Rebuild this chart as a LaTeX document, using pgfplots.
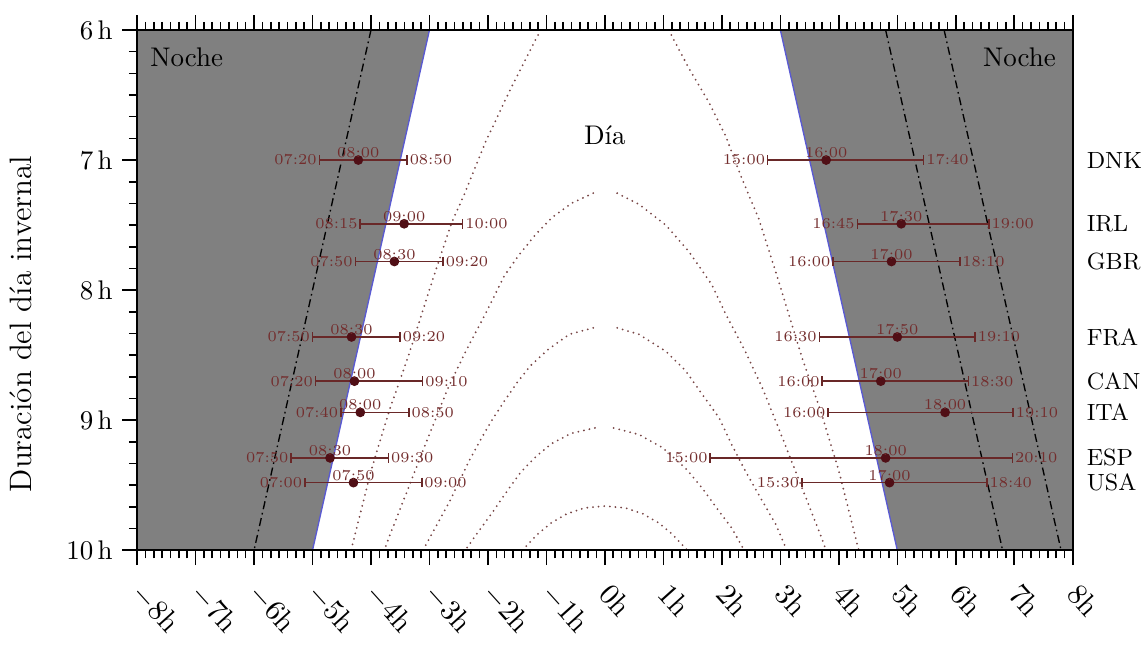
\documentclass[border=0pt]{standalone}
\usepackage{pgfplots}
\usepackage{pgfplotstable}
\pgfplotsset{compat=1.18}
\definecolor{nightgray}{RGB}{128,128,128}
\definecolor{edgeblue}{RGB}{90,90,210}
\definecolor{labc}{RGB}{115,45,45}
\definecolor{barc}{RGB}{105,40,40}
\definecolor{dotc}{RGB}{80,15,22}
\definecolor{curvec}{RGB}{120,70,70}
\newcommand{\labfont}{\fontsize{5.6}{6}\selectfont}

\pgfplotstableread{
c y xmin x xmax lmin lx lmax
DNK 7.00 -4.883 -4.217 -3.383 07:20 08:00 08:50
IRL 7.49 -4.183 -3.433 -2.433 08:15 09:00 10:00
GBR 7.78 -4.267 -3.600 -2.767 07:50 08:30 09:20
FRA 8.36 -5.000 -4.333 -3.500 07:50 08:30 09:20
CAN 8.70 -4.950 -4.283 -3.117 07:20 08:00 09:10
ITA 8.94 -4.517 -4.183 -3.350 07:40 08:00 08:50
ESP 9.29 -5.367 -4.700 -3.700 07:50 08:30 09:30
USA 9.48 -5.133 -4.300 -3.133 07:00 07:50 09:00
}\sunrise

\pgfplotstableread{
c y xmin x xmax lmin lx lmax
DNK 7.00 2.783 3.783 5.450 15:00 16:00 17:40
IRL 7.49 4.317 5.067 6.567 16:45 17:30 19:00
GBR 7.78 3.900 4.900 6.067 16:00 17:00 18:10
FRA 8.36 3.667 5.000 6.333 16:30 17:50 19:10
CAN 8.70 3.717 4.717 6.217 16:00 17:00 18:30
ITA 8.94 3.817 5.817 6.983 16:00 18:00 19:10
ESP 9.29 1.800 4.800 6.967 15:00 18:00 20:10
USA 9.48 3.367 4.867 6.533 15:30 17:00 18:40
}\sunset

\pgfplotsset{
  timebar/.style={only marks, mark=*, mark size=1.6pt,
    mark options={fill=dotc, draw=dotc},
    error bars/.cd, x dir=both, x explicit,
    error bar style={barc, line width=0.6pt},
    error mark=|, error mark options={barc, line width=0.6pt, mark size=1.8pt, rotate=0}},
  curvedot/.style={curvec, line width=0.75pt, line cap=round, dash pattern=on 0pt off 2.1pt},
  dashdot/.style={black, line width=0.5pt, dash pattern=on 3pt off 1.4pt on 0.6pt off 1.4pt},
}

\begin{document}
\begin{tikzpicture}
\begin{axis}[
  scale only axis, width=347.1pt, height=193.0pt,
  xmin=-8, xmax=8, ymin=6, ymax=10, y dir=reverse,
  clip=false, axis on top,
  axis line style={line width=0.7pt},
  xtick={-8,-7,-6,-5,-4,-3,-2,-1,0,1,2,3,4,5,6,7,8},
  xticklabels={$-8$h,$-7$h,$-6$h,$-5$h,$-4$h,$-3$h,$-2$h,$-1$h,$0$h,$1$h,$2$h,$3$h,$4$h,$5$h,$6$h,$7$h,$8$h},
  ytick={6,7,8,9,10},
  yticklabels={6\,h,7\,h,8\,h,9\,h,10\,h},
  minor x tick num=6, minor y tick num=5,
  tick align=outside, xtick pos=both, ytick pos=left,
  major tick length=5.5pt, minor tick length=3pt,
  every tick/.style={black, line width=0.6pt},
  yticklabel style={font=\fontsize{10}{12}\selectfont},
  xticklabel style={font=\fontsize{11}{13}\selectfont, xshift=-2.2pt, yshift=-6pt, rotate=-48, anchor=west},
]
% night regions
\addplot[fill=nightgray, draw=none] coordinates {(-8,6) (-3,6) (-5,10) (-8,10)} -- cycle;
\addplot[fill=nightgray, draw=none] coordinates {(3,6) (8,6) (8,10) (5,10)} -- cycle;
\addplot[edgeblue, line width=0.5pt] coordinates {(-3,6) (-5,10)};
\addplot[edgeblue, line width=0.5pt] coordinates {(3,6) (5,10)};
% dash-dot lines
\addplot[dashdot] coordinates {(-4,6) (-6,10)};
\addplot[dashdot] coordinates {(4.8,6) (6.8,10)};
\addplot[dashdot] coordinates {(5.8,6) (7.8,10)};
% dotted curves
\addplot[curvedot] coordinates {(-1.10,6.00) (-1.35,6.22) (-1.61,6.45) (-2.04,6.86) (-2.41,7.27) (-2.62,7.48) (-2.96,7.94) (-3.37,8.52) (-3.69,8.93) (-4.00,9.39) (-4.34,10.00)};
\addplot[curvedot] coordinates {(1.09,6.00) (1.43,6.29) (1.77,6.55) (2.06,6.81) (2.34,7.14) (2.63,7.45) (2.97,7.93) (3.37,8.52) (3.69,8.93) (4.00,9.39) (4.34,10.00)};
\addplot[curvedot] coordinates {(-0.20,7.255) (-0.56,7.33) (-0.90,7.44) (-1.18,7.57) (-1.47,7.73) (-1.72,7.89) (-2.04,8.18) (-2.38,8.47) (-2.69,8.76) (-3.02,9.13) (-3.36,9.52) (-3.70,9.91) (-3.77,10.00)};
\addplot[curvedot] coordinates {(0.21,7.255) (0.58,7.34) (1.04,7.50) (1.43,7.70) (1.83,7.96) (2.06,8.18) (2.40,8.47) (2.70,8.76) (3.03,9.13) (3.37,9.52) (3.71,9.91) (3.78,10.00)};
\addplot[curvedot] coordinates {(-0.20,8.29) (-0.61,8.34) (-0.98,8.46) (-1.27,8.58) (-1.50,8.71) (-1.73,8.86) (-1.96,9.02) (-2.15,9.17) (-2.33,9.32) (-2.65,9.62) (-2.93,9.85) (-3.11,10.00)};
\addplot[curvedot] coordinates {(0.21,8.29) (0.58,8.34) (1.04,8.47) (1.38,8.62) (1.66,8.80) (1.95,8.98) (2.17,9.19) (2.40,9.39) (2.69,9.62) (2.92,9.80) (3.11,10.00)};
\addplot[curvedot] coordinates {(-0.17,9.06) (-0.57,9.10) (-0.91,9.18) (-1.18,9.28) (-1.44,9.40) (-1.68,9.55) (-1.91,9.70) (-2.12,9.83) (-2.39,10.00)};
\addplot[curvedot] coordinates {(0.15,9.06) (0.58,9.11) (0.98,9.21) (1.38,9.37) (1.66,9.52) (1.95,9.70) (2.17,9.83) (2.38,10.00)};
\addplot[curvedot] coordinates {(-1.41,10.00) (-1.16,9.88) (-0.92,9.79) (-0.65,9.72) (-0.35,9.675) (0,9.66) (0.35,9.675) (0.65,9.72) (0.92,9.79) (1.16,9.88) (1.41,10.00)};
% bars
\addplot[timebar] table[x=x, y=y, x error plus expr=\thisrow{xmax}-\thisrow{x}, x error minus expr=\thisrow{x}-\thisrow{xmin}] {\sunrise};
\addplot[timebar] table[x=x, y=y, x error plus expr=\thisrow{xmax}-\thisrow{x}, x error minus expr=\thisrow{x}-\thisrow{xmin}] {\sunset};
% labels
\addplot[draw=none, nodes near coords, point meta=explicit symbolic,
  every node near coord/.append style={anchor=east, font=\labfont, text=labc, inner sep=0.8pt}]
  table[x=xmin, y=y, meta=lmin] {\sunrise};
\addplot[draw=none, nodes near coords, point meta=explicit symbolic,
  every node near coord/.append style={anchor=west, font=\labfont, text=labc, inner sep=0.8pt}]
  table[x=xmax, y=y, meta=lmax] {\sunrise};
\addplot[draw=none, nodes near coords, point meta=explicit symbolic,
  every node near coord/.append style={anchor=south, font=\labfont, text=labc, inner sep=0.6pt}]
  table[x=x, y=y, meta=lx] {\sunrise};
\addplot[draw=none, nodes near coords, point meta=explicit symbolic,
  every node near coord/.append style={anchor=east, font=\labfont, text=labc, inner sep=0.8pt}]
  table[x=xmin, y=y, meta=lmin] {\sunset};
\addplot[draw=none, nodes near coords, point meta=explicit symbolic,
  every node near coord/.append style={anchor=west, font=\labfont, text=labc, inner sep=0.8pt}]
  table[x=xmax, y=y, meta=lmax] {\sunset};
\addplot[draw=none, nodes near coords, point meta=explicit symbolic,
  every node near coord/.append style={anchor=south, font=\labfont, text=labc, inner sep=0.6pt}]
  table[x=x, y=y, meta=lx] {\sunset};
% country names
\addplot[draw=none, nodes near coords, point meta=explicit symbolic,
  every node near coord/.append style={anchor=west, font=\fontsize{8.7}{10}\selectfont, text=black, inner sep=0pt, xshift=5pt}]
  table[x expr=8, y=y, meta=c] {\sunrise};
% texts
\node[anchor=west, inner sep=0pt, font=\fontsize{10}{12}\selectfont] at (axis cs:-7.78,6.21) {Noche};
\node[anchor=east, inner sep=0pt, font=\fontsize{10}{12}\selectfont] at (axis cs:7.72,6.21) {Noche};
\node[anchor=base, inner sep=0pt, font=\fontsize{10}{12}\selectfont] at (axis cs:0,6.88) {Día};
\node[rotate=90, anchor=base, inner sep=0pt, font=\fontsize{11.5}{14}\selectfont] at (axis description cs:-0.113,0.4347) {Duración del día invernal};
\end{axis}
\path ([xshift=-50.85pt, yshift=-28.52pt]current axis.south west) rectangle ([xshift=25.0pt, yshift=11.11pt]current axis.north east);
\end{tikzpicture}
\end{document}
